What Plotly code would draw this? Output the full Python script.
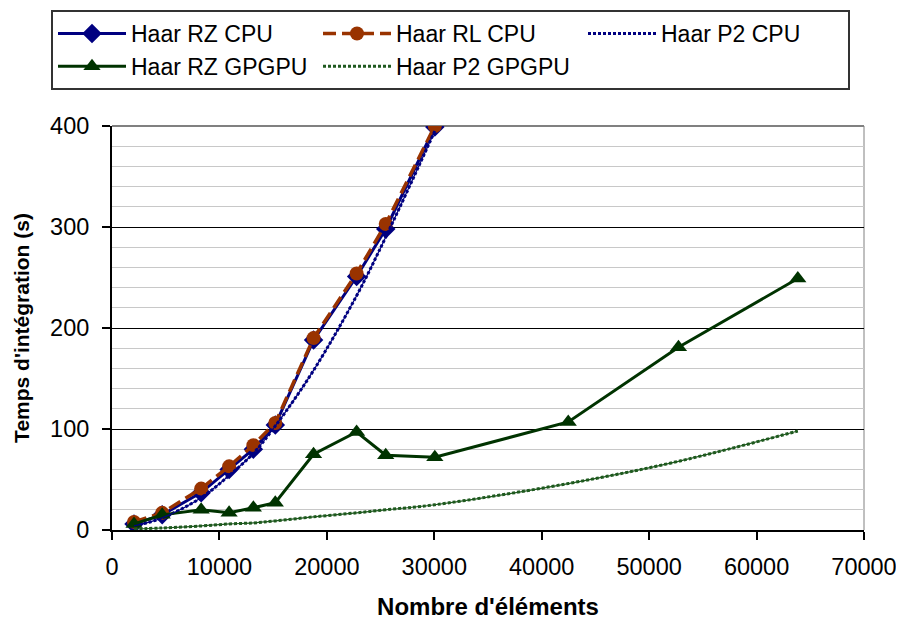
import plotly.graph_objects as go

x_cpu = [2050, 4670, 8300, 10900, 13160, 15200, 18760, 22770, 25480, 30050]
rz_cpu = [6, 15, 37, 60, 80, 104, 188, 251, 298, 399]
rl_cpu = [8, 17, 41, 63, 84, 106, 190, 254, 303, 400]
p2_cpu = [4, 12, 32, 54, 76, 103, 158, 232, 290, 395]

x_gpu = [2050, 4670, 8300, 10900, 13160, 15200, 18760, 22770, 25480, 30050, 42470, 52730, 63840]
rz_gpu = [6, 15, 20, 17, 22, 27, 75, 97, 74, 72, 107, 181, 249]
p2_gpu = [1, 2, 4, 6, 7, 9, 13, 17, 20, 25, 46, 68, 98]

x_title = "Nombre d'éléments"
y_title = "Temps d'intégration (s)"

NAVY = "#000080"
BROWN = "#993300"
GREEN = "#003300"
GREEN2 = "#1f5a1f"

# page body has an 8px margin; compensate so the plot lands where the reference has it
OFF = 8
ML, MR, MT, MB = 112 - OFF, 40 + OFF, 126 - OFF, 89 + OFF
W, H = 904, 619
PW, PH = W - ML - MR, H - MT - MB

fig = go.Figure()
fig.add_trace(go.Scatter(x=x_cpu, y=rz_cpu, name="Haar RZ CPU", mode="lines+markers",
                         line=dict(color=NAVY, width=3),
                         marker=dict(symbol="diamond", size=15, color=NAVY)))
fig.add_trace(go.Scatter(x=x_cpu, y=rl_cpu, name="Haar RL CPU", mode="lines+markers",
                         line=dict(color=BROWN, width=3.5, dash="13px,6px"),
                         marker=dict(symbol="circle", size=14, color=BROWN)))
fig.add_trace(go.Scatter(x=x_cpu, y=p2_cpu, name="Haar P2 CPU", mode="lines",
                         line=dict(color=NAVY, width=3, dash="3px,2px", shape="spline")))
fig.add_trace(go.Scatter(x=x_gpu, y=rz_gpu, name="Haar RZ GPGPU", mode="lines+markers",
                         line=dict(color=GREEN, width=3),
                         marker=dict(symbol="triangle-up", size=15, color=GREEN)))
fig.add_trace(go.Scatter(x=x_gpu, y=p2_gpu, name="Haar P2 GPGPU", mode="lines",
                         line=dict(color=GREEN2, width=3, dash="3px,2px", shape="spline")))
# thin core lines under the dotted P2 curves (chain-like look)
fig.add_trace(go.Scatter(x=x_cpu, y=p2_cpu, mode="lines", showlegend=False, hoverinfo="skip",
                         line=dict(color=NAVY, width=1.2, shape="spline")))
fig.add_trace(go.Scatter(x=x_gpu, y=p2_gpu, mode="lines", showlegend=False, hoverinfo="skip",
                         line=dict(color=GREEN2, width=1.2, shape="spline")))

fig.update_layout(
    width=W, height=H,
    margin=dict(l=ML, r=MR, t=MT, b=MB, autoexpand=False),
    plot_bgcolor="white", paper_bgcolor="white",
    font=dict(family="Liberation Sans, Arial, sans-serif", size=22, color="black"),
    legend=dict(orientation="h",
                x=(51 - OFF - ML) / PW, y=(H - MB - (10 - OFF)) / PH,
                xanchor="left", yanchor="top",
                bordercolor="#333333", borderwidth=2, bgcolor="white",
                itemwidth=68, entrywidth=182, entrywidthmode="pixels",
                font=dict(size=23)),
    xaxis=dict(range=[0, 70000], dtick=10000, showgrid=False, zeroline=False,
               showline=True, linecolor="black", linewidth=2, automargin=False,
               ticks="outside", ticklen=8, tickcolor="black", tickwidth=1.5,
               tickfont=dict(size=23.5), ticklabelstandoff=7,
               title=dict(text="<b>" + x_title + "</b>", standoff=19, font=dict(size=24)),
               tickformat="d"),
    yaxis=dict(range=[0, 400], dtick=100, showgrid=True, gridcolor="black", gridwidth=1,
               zeroline=False, showline=True, linecolor="black", linewidth=2, automargin=False,
               ticks="outside", ticklen=8, tickcolor="black", tickwidth=1.5,
               tickfont=dict(size=23.5), ticklabelstandoff=8,
               minor=dict(dtick=20, showgrid=True, gridcolor="#c8c8c8", gridwidth=1),
               title=dict(text="<b>" + y_title + "</b>", standoff=15, font=dict(size=21))),
    shapes=[
        dict(type="line", xref="paper", yref="paper", x0=0, x1=1, y0=1, y1=1,
             line=dict(color="#808080", width=2), layer="below"),
        dict(type="line", xref="paper", yref="paper", x0=1, x1=1, y0=0, y1=1,
             line=dict(color="#808080", width=1), layer="below"),
    ],
)

fig.write_html("out.html")
